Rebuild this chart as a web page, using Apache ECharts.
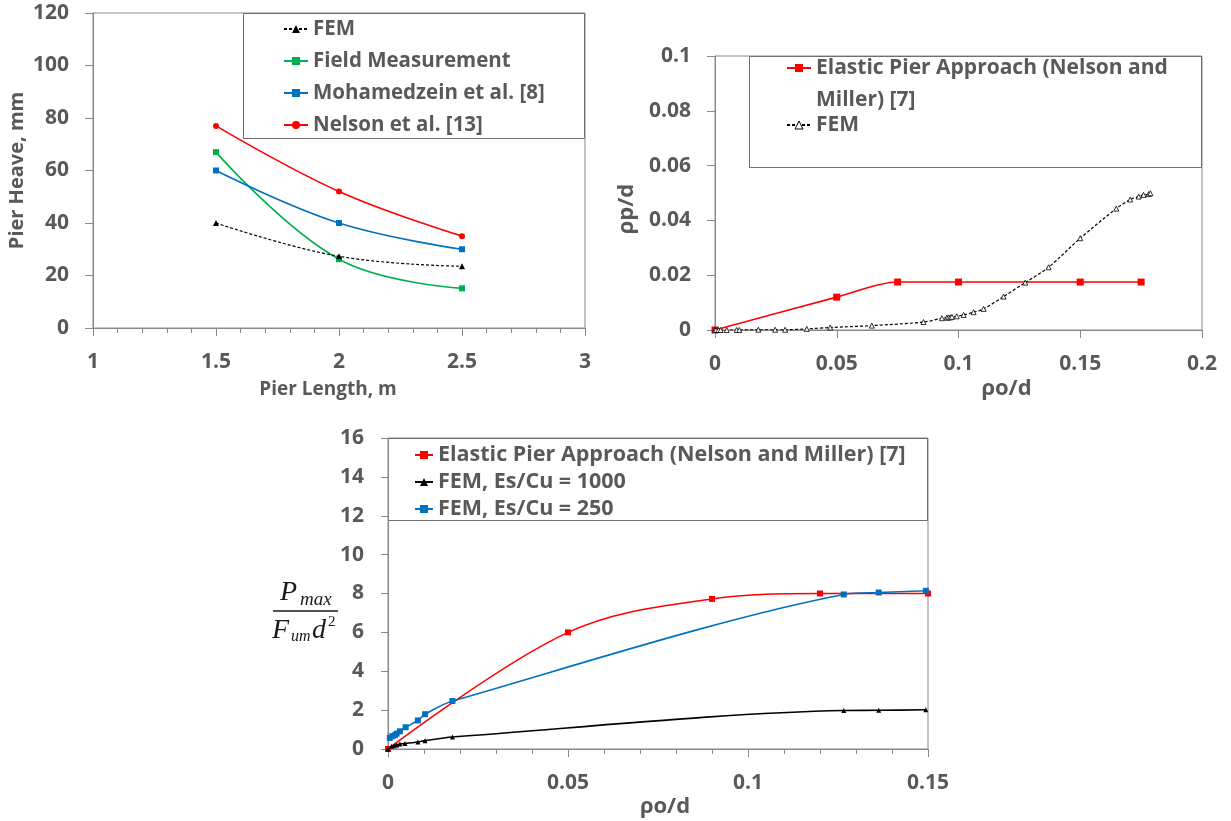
<!DOCTYPE html>
<html>
<head>
<meta charset="utf-8">
<title>Pier heave and pier response</title>
<script src="https://cdn.jsdelivr.net/npm/echarts@6/dist/echarts.min.js"></script>
<style>
  html, body { margin: 0; padding: 0; background: #fff; }
  #chart { width: 1231px; height: 821px; }
</style>
</head>
<body>
<div id="chart"></div>
<script>
// ---- Pier heave versus pier length ----
const pierLength = [1.5, 2, 2.5];
const heaveFEM = [40, 27.3, 23.5];
const heaveField = [67, 26.2, 15.1];
const heaveMohamedzein = [60, 40, 30];
const heaveNelson = [77, 52, 35];

// ---- Normalized pier displacement (ρp/d) versus ρo/d ----
const elasticDispX = [0, 0.05, 0.075, 0.1, 0.15, 0.175];
const elasticDispY = [0, 0.012, 0.0175, 0.0175, 0.0175, 0.0175];
const femDispX = [0, 0.0004, 0.0014, 0.0023, 0.0048, 0.0089, 0.0100, 0.0178, 0.0247, 0.0288,
  0.0377, 0.0473, 0.0644, 0.0856, 0.0932, 0.0952, 0.0959, 0.0966, 0.0973, 0.0993,
  0.1021, 0.1062, 0.1103, 0.1185, 0.1274, 0.1370, 0.1500, 0.1648, 0.1705, 0.1740,
  0.1760, 0.1781, 0.1788];
const femDispY = [0, 0, 0, 0, 0, 0, 0, 0.0001, 0.0001, 0.0001,
  0.0004, 0.0009, 0.0016, 0.0029, 0.0043, 0.0045, 0.0046, 0.0046, 0.0048, 0.0050,
  0.0055, 0.0065, 0.0077, 0.0122, 0.0173, 0.0229, 0.0335, 0.0443, 0.0476, 0.0487,
  0.0493, 0.0496, 0.0499];

// ---- Normalized maximum pier force versus ρo/d ----
const elasticForceX = [0, 0.05, 0.09, 0.12, 0.15];
const elasticForceY = [0, 6.0, 7.72, 8.0, 8.0];
const fem1000X = [0, 0.001, 0.0017, 0.0024, 0.0033, 0.0047, 0.0083, 0.0103, 0.0179, 0.1266, 0.1363, 0.1494];
const fem1000Y = [0, 0.14, 0.17, 0.2, 0.26, 0.28, 0.36, 0.43, 0.62, 1.98, 1.99, 2.02];
const fem250X = [0.0005, 0.0012, 0.0019, 0.0024, 0.0033, 0.0049, 0.0083, 0.0103, 0.0179, 0.1266, 0.1363, 0.1494];
const fem250Y = [0.57, 0.66, 0.71, 0.79, 0.91, 1.12, 1.47, 1.79, 2.47, 7.95, 8.05, 8.14];

const NAME_FEM = 'FEM';
const NAME_FIELD = 'Field Measurement';
const NAME_MOH = 'Mohamedzein et al. [8]';
const NAME_NELSON = 'Nelson et al. [13]';
const NAME_ELASTIC = 'Elastic Pier Approach (Nelson and Miller) [7]';
const NAME_FEM1000 = 'FEM, Es/Cu = 1000';
const NAME_FEM250 = 'FEM, Es/Cu = 250';

const zip = (xs, ys) => xs.map((x, i) => [x, ys[i]]);

const FONT = "'Open Sans', 'Liberation Sans', sans-serif";
const TEXT = '#595959';
const AXIS = '#898989';
const RED = '#FF0000';
const GREEN = '#00B050';
const BLUE = '#0070C0';

function nameStyle(size, padding) {
  return { color: TEXT, fontFamily: FONT, fontWeight: 'bold', fontSize: size, padding: padding || 0 };
}

function axisBase(extra) {
  return Object.assign({
    type: 'value',
    axisLine: { show: true, lineStyle: { color: AXIS, width: 1 } },
    axisTick: { show: true, inside: false, length: 8, lineStyle: { color: AXIS } },
    splitLine: { show: false },
    axisLabel: { color: TEXT, fontFamily: FONT, fontWeight: 'bold', fontSize: 21, margin: 24 }
  }, extra);
}

function legendText(size, extra) {
  return Object.assign({ color: TEXT, fontFamily: FONT, fontWeight: 'bold', fontSize: size }, extra);
}

const chart = echarts.init(document.getElementById('chart'), null, { renderer: 'canvas' });

chart.setOption({
  backgroundColor: '#fff',
  animation: false,
  grid: [
    { left: 93, top: 13, width: 492, height: 315, show: true, borderColor: AXIS, borderWidth: 1 },
    { left: 715, top: 56, width: 487, height: 274, show: true, borderColor: AXIS, borderWidth: 1 },
    { left: 388, top: 438, width: 540, height: 311, show: true, borderColor: AXIS, borderWidth: 1 }
  ],
  xAxis: [
    axisBase({
      gridIndex: 0, min: 1, max: 3, interval: 0.5,
      minorTick: { show: true, splitNumber: 5, length: 5, lineStyle: { color: AXIS } },
      name: 'Pier Length, m', nameLocation: 'middle', nameGap: 52,
      nameTextStyle: nameStyle(19, [0, 22, 0, 0])
    }),
    axisBase({
      gridIndex: 1, min: 0, max: 0.2, interval: 0.05,
      name: 'ρo/d', nameLocation: 'middle', nameGap: 48,
      nameTextStyle: nameStyle(22, [0, 0, 0, 96])
    }),
    axisBase({
      gridIndex: 2, min: 0, max: 0.15, interval: 0.05,
      minorTick: { show: true, splitNumber: 5, length: 5, lineStyle: { color: AXIS } },
      name: 'ρo/d', nameLocation: 'middle', nameGap: 47,
      nameTextStyle: nameStyle(22, [0, 0, 0, 14])
    })
  ],
  yAxis: [
    axisBase({
      gridIndex: 0, min: 0, max: 120, interval: 20,
      name: 'Pier Heave, mm', nameLocation: 'middle', nameGap: 66,
      nameTextStyle: nameStyle(20)
    }),
    axisBase({
      gridIndex: 1, min: 0, max: 0.1, interval: 0.02,
      name: 'ρp/d', nameLocation: 'middle', nameGap: 77,
      nameTextStyle: nameStyle(22, [0, 32, 0, 0])
    }),
    axisBase({
      gridIndex: 2, min: 0, max: 16, interval: 2,
      axisTick: { show: true, inside: false, length: 7, lineStyle: { color: AXIS } }
    })
  ],
  legend: [
    {
      orient: 'vertical', left: 283, top: 18, padding: 0,
      itemWidth: 24, itemHeight: 10, itemGap: 10,
      textStyle: legendText(20.5, { lineHeight: 22 }),
      data: [NAME_FEM, NAME_FIELD, NAME_MOH, NAME_NELSON]
    },
    {
      // two-line entry: a leading blank line keeps the marker level with the first text line
      orient: 'vertical', left: 786, top: 20, padding: 0,
      itemWidth: 24, itemHeight: 10,
      textStyle: legendText(21, { lineHeight: 32 }),
      formatter: () => '\nElastic Pier Approach (Nelson and\nMiller) [7]',
      data: [NAME_ELASTIC]
    },
    {
      orient: 'vertical', left: 786, top: 109, padding: 0,
      itemWidth: 24, itemHeight: 10,
      textStyle: legendText(21, { lineHeight: 32 }),
      data: [{ name: NAME_FEM, itemStyle: { color: '#fff', borderColor: '#000', borderWidth: 1 } }]
    },
    {
      orient: 'vertical', left: 414, top: 444, padding: 0,
      itemWidth: 18, itemHeight: 10, itemGap: 5,
      textStyle: legendText(21.5, { lineHeight: 22 }),
      data: [NAME_ELASTIC, NAME_FEM1000, NAME_FEM250]
    }
  ],
  graphic: [
    // legend frames
    { type: 'rect', shape: { x: 243.5, y: 13.5, width: 341, height: 125 }, style: { fill: '#fff', stroke: '#6f6f6f', lineWidth: 1 }, z: 0, silent: true },
    { type: 'rect', shape: { x: 749.5, y: 56.5, width: 452, height: 111 }, style: { fill: '#fff', stroke: '#6f6f6f', lineWidth: 1 }, z: 0, silent: true },
    { type: 'rect', shape: { x: 388.5, y: 438.5, width: 539, height: 82 }, style: { fill: '#fff', stroke: '#6f6f6f', lineWidth: 1 }, z: 0, silent: true },
    // y-axis title of the force chart: P_max / (F_um d^2)
    { type: 'text', left: 280, top: 579, style: { text: 'P', font: "italic 28px 'Liberation Serif', serif", fill: '#1a1a1a' } },
    { type: 'text', left: 300, top: 590, style: { text: 'max', font: "italic 19px 'Liberation Serif', serif", fill: '#1a1a1a' } },
    { type: 'line', shape: { x1: 273, y1: 611, x2: 338, y2: 611 }, style: { stroke: '#1a1a1a', lineWidth: 1.5 } },
    { type: 'text', left: 272, top: 617, style: { text: 'F', font: "italic 28px 'Liberation Serif', serif", fill: '#1a1a1a' } },
    { type: 'text', left: 291, top: 629, style: { text: 'um', font: "italic 16px 'Liberation Serif', serif", fill: '#1a1a1a' } },
    { type: 'text', left: 312, top: 617, style: { text: 'd', font: "italic 28px 'Liberation Serif', serif", fill: '#1a1a1a' } },
    { type: 'text', left: 328, top: 615, style: { text: '2', font: "15px 'Liberation Serif', serif", fill: '#1a1a1a' } }
  ],
  series: [
    // Pier heave chart
    {
      name: NAME_FEM, type: 'line', xAxisIndex: 0, yAxisIndex: 0, smooth: 0.4,
      data: zip(pierLength, heaveFEM), symbol: 'triangle', symbolSize: 6,
      itemStyle: { color: '#000' }, lineStyle: { color: '#000', width: 1.2, type: [3, 2] }, z: 5
    },
    {
      name: NAME_FIELD, type: 'line', xAxisIndex: 0, yAxisIndex: 0, smooth: 0.4,
      data: zip(pierLength, heaveField), symbol: 'rect', symbolSize: 6,
      itemStyle: { color: GREEN }, lineStyle: { color: GREEN, width: 1.6 }
    },
    {
      name: NAME_MOH, type: 'line', xAxisIndex: 0, yAxisIndex: 0, smooth: 0.4,
      data: zip(pierLength, heaveMohamedzein), symbol: 'rect', symbolSize: 6,
      itemStyle: { color: BLUE }, lineStyle: { color: BLUE, width: 1.6 }
    },
    {
      name: NAME_NELSON, type: 'line', xAxisIndex: 0, yAxisIndex: 0, smooth: 0.4,
      data: zip(pierLength, heaveNelson), symbol: 'circle', symbolSize: 6,
      itemStyle: { color: RED }, lineStyle: { color: RED, width: 1.6 }
    },
    // Pier displacement chart
    {
      name: NAME_ELASTIC, type: 'line', xAxisIndex: 1, yAxisIndex: 1, smooth: 0.3,
      data: zip(elasticDispX, elasticDispY), symbol: 'rect', symbolSize: 7,
      itemStyle: { color: RED }, lineStyle: { color: RED, width: 1.6 }
    },
    {
      name: NAME_FEM, type: 'line', xAxisIndex: 1, yAxisIndex: 1, smooth: 0.3,
      data: zip(femDispX, femDispY), symbol: 'triangle', symbolSize: 5,
      itemStyle: { color: '#fff', borderColor: '#000', borderWidth: 0.8 },
      lineStyle: { color: '#000', width: 1.2, type: [3, 2] }, z: 5
    },
    // Pier force chart
    {
      name: NAME_ELASTIC, type: 'line', xAxisIndex: 2, yAxisIndex: 2, smooth: 0.35,
      data: zip(elasticForceX, elasticForceY), symbol: 'rect', symbolSize: 6,
      itemStyle: { color: RED }, lineStyle: { color: RED, width: 1.6 }
    },
    {
      name: NAME_FEM1000, type: 'line', xAxisIndex: 2, yAxisIndex: 2, smooth: 0.3,
      data: zip(fem1000X, fem1000Y), symbol: 'triangle', symbolSize: 5,
      itemStyle: { color: '#000' }, lineStyle: { color: '#000', width: 1.6 }
    },
    {
      name: NAME_FEM250, type: 'line', xAxisIndex: 2, yAxisIndex: 2, smooth: 0.3,
      data: zip(fem250X, fem250Y), symbol: 'rect', symbolSize: 6,
      itemStyle: { color: BLUE }, lineStyle: { color: BLUE, width: 1.6 }
    }
  ]
});
</script>
</body>
</html>
